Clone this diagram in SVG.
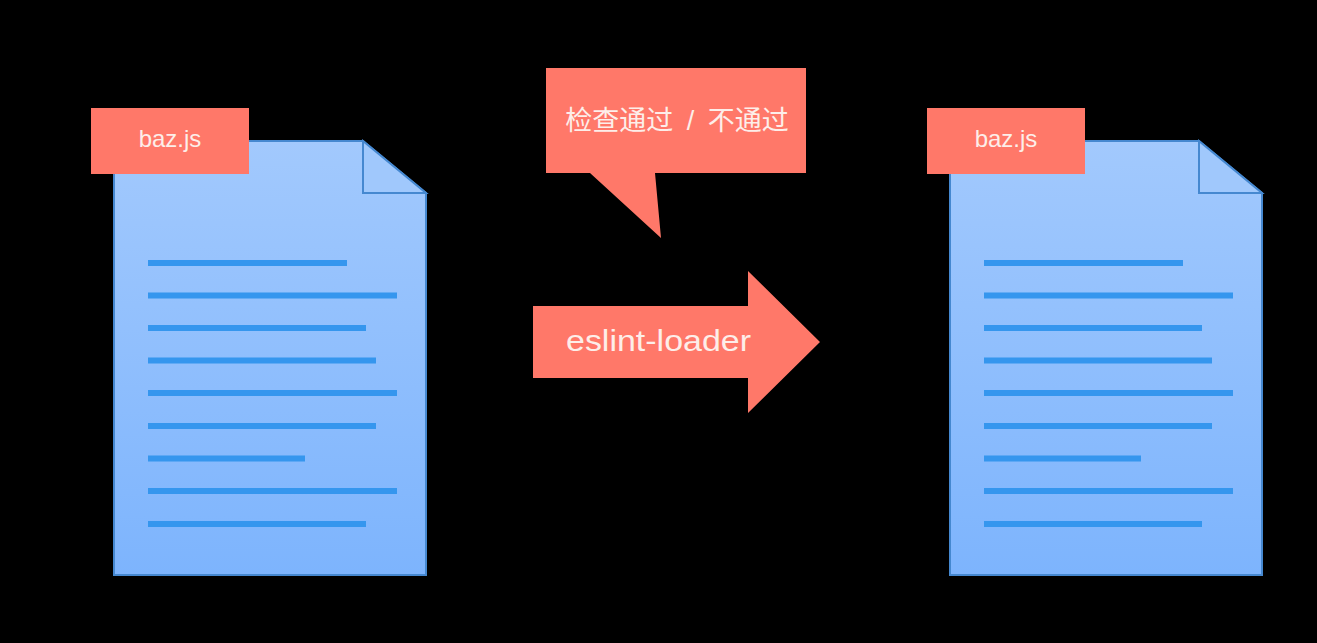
<svg xmlns="http://www.w3.org/2000/svg" xmlns:xlink="http://www.w3.org/1999/xlink" width="1317" height="643" viewBox="0 0 1317 643">
<style>
.t{font-family:"Liberation Sans","Noto Sans CJK SC",sans-serif;fill:#fdeee9;text-anchor:middle}
.r{fill:#ff7869}
.l{fill:#3596ee}
.o{stroke:#4588d0;stroke-width:2}
</style>
<defs>
<linearGradient id="g" x1="0" y1="0" x2="0" y2="1"><stop offset="0" stop-color="#a2c9fd"/><stop offset="1" stop-color="#7db4fd"/></linearGradient>
<g id="doc">
<path class="o" fill="url(#g)" d="M114 141H363L426 193V575H114Z"/>
<path class="o" fill="#a0c8fc" d="M363 141L426 193H363Z"/>
<rect class="l" x="148" y="260" width="199" height="6"/>
<rect class="l" x="148" y="292.500" width="249" height="6"/>
<rect class="l" x="148" y="325" width="218" height="6"/>
<rect class="l" x="148" y="357.500" width="228" height="6"/>
<rect class="l" x="148" y="390" width="249" height="6"/>
<rect class="l" x="148" y="423" width="228" height="6"/>
<rect class="l" x="148" y="455.500" width="157" height="6"/>
<rect class="l" x="148" y="488" width="249" height="6"/>
<rect class="l" x="148" y="521" width="218" height="6"/>
<rect class="r" x="91" y="108" width="158" height="66"/>
<text class="t" x="170" y="147" font-size="24">baz.js</text>
</g>
</defs>
<rect width="1317" height="643" fill="#000"/>
<g id="doc-left"><use xlink:href="#doc" href="#doc"/></g>
<g id="callout">
<path class="r" d="M546 68H806V173H655L661 238L590 173H546Z"/>
<text class="t" x="677" y="130" font-size="27" word-spacing="6">检查通过 / 不通过</text>
</g>
<g id="connectors">
<g id="arrow">
<path class="r" d="M533 306H748V271L820 342L748 413V378H533Z"/>
<text class="t" x="658.500" y="351" font-size="30" textLength="185" lengthAdjust="spacingAndGlyphs">eslint-loader</text>
</g>
</g>
<g id="doc-right"><use xlink:href="#doc" href="#doc" x="836"/></g>
</svg>
